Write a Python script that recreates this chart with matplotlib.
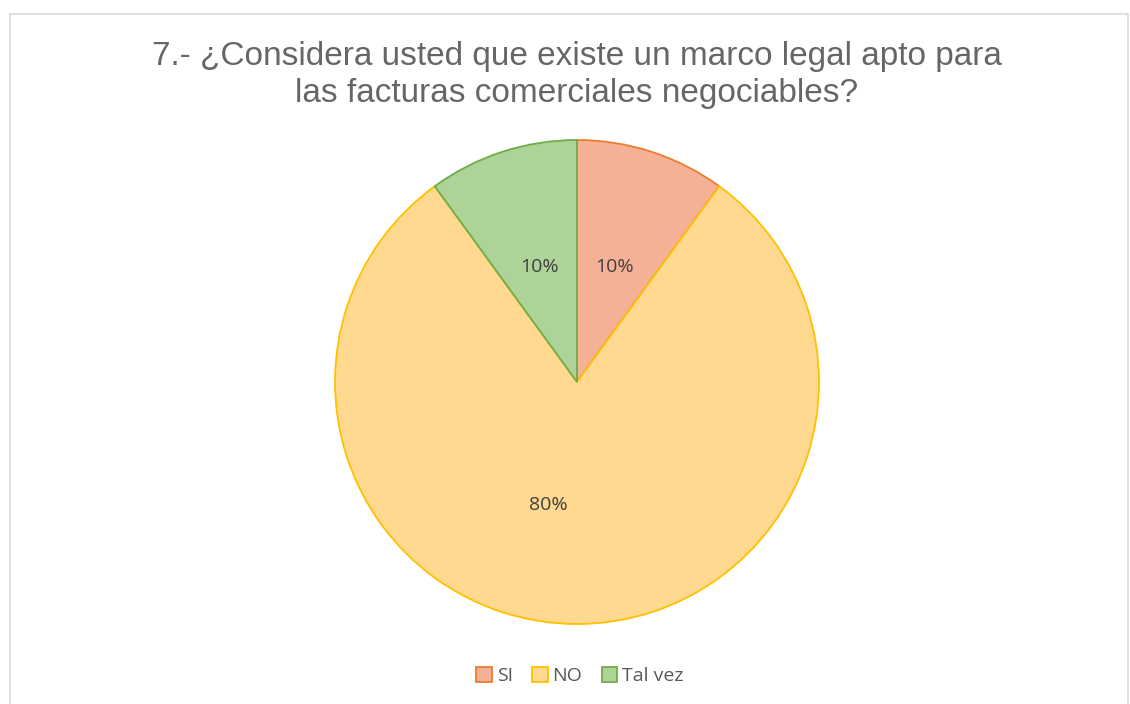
import matplotlib
matplotlib.use("Agg")
import matplotlib.pyplot as plt
from matplotlib.patches import Patch, Rectangle

categories = ["SI", "NO", "Tal vez"]
values = [10, 80, 10]
fills = ["#F5B195", "#FFD98F", "#ADD398"]
edges = ["#ED7D31", "#FFC000", "#70AD47"]
title = "7.- ¿Considera usted que existe un marco legal apto para\nlas facturas comerciales negociables?"

W, H = 1130, 704
fig = plt.figure(figsize=(W / 100, H / 100), dpi=100)
fig.patch.set_facecolor("white")

# chart border
fig.add_artist(Rectangle((10 / W, -0.01), 1118 / W, (H - 14) / H + 0.01,
                         transform=fig.transFigure, fill=False,
                         edgecolor="#D9D9D9", linewidth=1.2))

cx, cy, r = 577, 382, 242
ax = fig.add_axes([(cx - r) / W, (H - cy - r) / H, 2 * r / W, 2 * r / H])
wedges, texts, autotexts = ax.pie(
    values, colors=fills, startangle=90, counterclock=False,
    autopct="%1.0f%%", pctdistance=0.5,
    wedgeprops=dict(linewidth=1.3),
    textprops=dict(color="#404040", fontsize=14, family="Open Sans"))
for w, e in zip(wedges, edges):
    w.set_edgecolor(e)
ax.set_xlim(-1, 1)
ax.set_ylim(-1, 1)
ax.set_aspect("equal")
ax.axis("off")
# shift 80% label slightly left as in reference
autotexts[1].set_position((-0.12, -0.51))

fig.text(cx / W, 1 - 75 / H, title, ha="center", va="center",
         fontsize=24, color="#666666", family="Liberation Sans",
         linespacing=1.25)

handles = [Patch(facecolor=f, edgecolor=e, linewidth=1.3) for f, e in zip(fills, edges)]
fig.legend(handles, categories, loc="center", bbox_to_anchor=(580 / W, 1 - 676 / H),
           ncol=3, frameon=False, handlelength=0.8, handleheight=0.8,
           handletextpad=0.25, columnspacing=1.0,
           prop=dict(family="Open Sans", size=14), labelcolor="#595959")

fig.savefig("out.png", dpi=100)
